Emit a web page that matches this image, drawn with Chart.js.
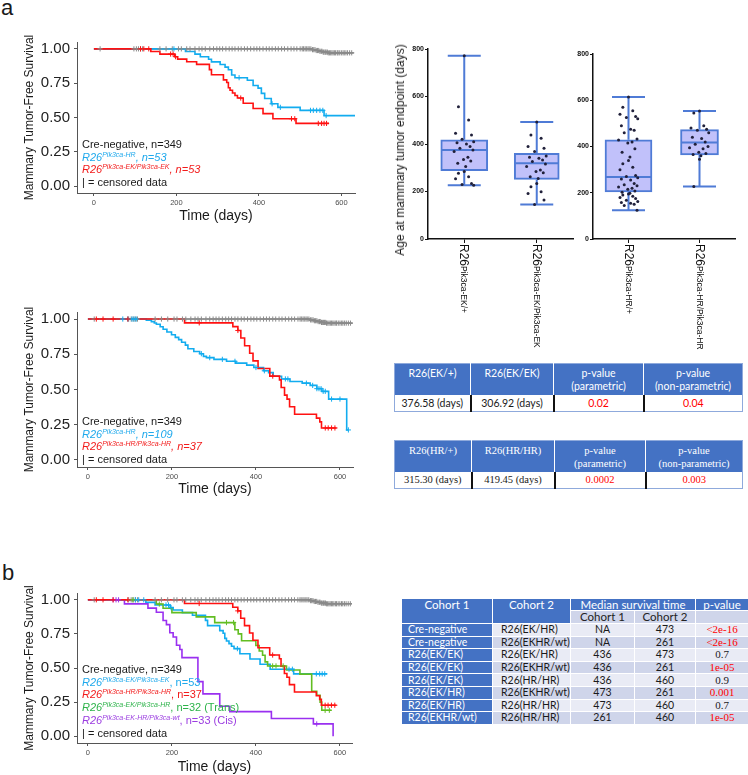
<!DOCTYPE html>
<html>
<head>
<meta charset="utf-8">
<script src="https://cdn.jsdelivr.net/npm/chart.js@4.4.0/dist/chart.umd.min.js"></script>
<style>
body { margin: 0; width: 748px; height: 775px; position: relative; overflow: hidden; background: #fff;
  font-family: "Liberation Sans", Arial, sans-serif; color: #1a1a1a; }
canvas { position: absolute; }
.panel { position: absolute; font-size: 22px; line-height: 22px; }
.leg { position: absolute; font-size: 11px; line-height: 12.5px; white-space: nowrap; }
.leg sup { font-size: 7px; line-height: 0; vertical-align: 4px; }
.cb { color: #1fa9ec; } .cr { color: #f21b1b; } .cg { color: #2db34a; } .cp { color: #9b3de0; }
.ytitle { position: absolute; font-size: 12px; white-space: nowrap; transform: translate(-50%, -50%) rotate(-90deg); }
.xl { position: absolute; transform-origin: 0 0; transform: rotate(90deg); white-space: nowrap; font-size: 12px; line-height: 14px; color: #111; }
.xl sup { font-size: 8.5px; line-height: 0; vertical-align: 1px; }
table { position: absolute; border-collapse: collapse; table-layout: fixed; }
table td, table th { padding: 0; white-space: nowrap; overflow: hidden; }
.t1 { font-family: Lato, "Liberation Sans", sans-serif; font-size: 10.5px; border: 1px solid #8faadc; }
.t2 { font-family: "Liberation Serif", serif; font-size: 10.5px; border: 1px solid #8faadc; }
.t1 th, .t2 th { background: #4472c4; color: #fff; font-weight: normal; vertical-align: top; height: 31px;
  line-height: 13px; padding-top: 3px; box-sizing: border-box; border-left: 1px solid #fff; }
.t1 td, .t2 td { height: 16px; text-align: center; border-left: 2px solid #111; background: #fff; }
.t1 th:first-child, .t2 th:first-child, .t1 td:first-child, .t2 td:first-child { border-left: none; }
.red { color: #f00; }
.t3 { font-family: Lato, "Liberation Sans", sans-serif; font-size: 10.5px; }
.t3 th, .t3 td { border: 1px solid #fff; line-height: 11px; }
.t3 th { background: #4472c4; color: #fff; font-weight: normal; text-align: center; vertical-align: top; font-size: 11.5px; }
.t3 th.sub { background: #cfd5ea; color: #222; }
.t3 td.c1 { background: #4472c4; color: #fff; text-align: left; padding-left: 6px; }
.t3 td.c2 { text-align: left; padding-left: 8px; }
.t3 td.m { text-align: center; }
.t3 td.p { text-align: center; font-family: "Liberation Serif", serif; font-size: 11px; }
.t3 tr.a td { background: #e9ebf5; } .t3 tr.b td { background: #cfd5ea; }
.t3 tr.a td.c1, .t3 tr.b td.c1 { background: #4472c4; }
</style>
</head>
<body>

<div class="panel" style="left:1px;top:-3px">a</div>
<div class="panel" style="left:2px;top:562px">b</div>

<canvas id="km1" width="346" height="200" style="left:14px;top:29px"></canvas>
<canvas id="km2" width="344" height="203" style="left:14px;top:299px"></canvas>
<canvas id="km3" width="343" height="200" style="left:14px;top:580px"></canvas>

<canvas id="box1" width="176" height="214" style="left:404px;top:39px"></canvas>
<canvas id="box2" width="170" height="209" style="left:572px;top:44px"></canvas>
<div class="ytitle" style="left:400px;top:150px">Age at mammary tumor endpoint (days)</div>

<div class="leg" style="left:82px;top:138px">
  <div>Cre-negative, n=349</div>
  <div class="cb"><i>R26<sup>Pik3ca-HR</sup>, n=53</i></div>
  <div class="cr"><i>R26<sup>Pik3ca-EK/Pik3ca-EK</sup>, n=53</i></div>
  <div>| = censored data</div>
</div>
<div class="leg" style="left:82px;top:415px">
  <div>Cre-negative, n=349</div>
  <div class="cb"><i>R26<sup>Pik3ca-HR</sup>, n=109</i></div>
  <div class="cr"><i>R26<sup>Pik3ca-HR/Pik3ca-HR</sup>, n=37</i></div>
  <div>| = censored data</div>
</div>
<div class="leg" style="left:82px;top:663px;line-height:12.7px">
  <div>Cre-negative, n=349</div>
  <div class="cb"><i>R26<sup>Pik3ca-EK/Pik3ca-EK</sup></i>, n=53</div>
  <div class="cr"><i>R26<sup>Pik3ca-HR/Pik3ca-HR</sup></i>, n=37</div>
  <div class="cg"><i>R26<sup>Pik3ca-EK/Pik3ca-HR</sup></i>, n=32 (Trans)</div>
  <div class="cp"><i>R26<sup>Pik3ca-EK-HR/Pik3ca-wt</sup></i>, n=33 (Cis)</div>
  <div>| = censored data</div>
</div>

<table class="t1" id="tab1" style="left:394px;top:363px;width:348px"></table>
<table class="t2" id="tab2" style="left:394px;top:440px;width:348px"></table>
<table class="t3" id="tab3" style="left:401px;top:598px;width:347px"></table>

<script>
// ---- Kaplan-Meier data: event times (days) and survival after each event ----
var creTimes = [528, 538, 546, 556, 568];
var creSurv = [0.994, 0.988, 0.982, 0.976, 0.971];
var creCens = [15, 97, 103, 108, 113, 118, 160, 175, 190, 205, 212, 225, 233, 245, 255, 262, 270, 281, 290, 298,
  305, 312, 320, 328, 335, 342, 350, 357, 365, 372, 380, 388, 395, 402, 410, 418, 425, 432, 440, 447, 455, 462,
  470, 478, 485, 492, 500, 505, 508, 512, 515, 519, 522, 526, 530, 533, 536, 539, 542, 545, 548, 551, 553, 556,
  558, 561, 563, 566, 568, 571, 574, 577, 580, 583, 586, 590, 592, 596, 600, 604, 607, 611, 615, 620, 625];
var creEnd = 630;

var ekekTimes = [138, 160, 196, 203, 225, 249, 280, 285, 314, 322, 326, 330, 336, 342, 348, 362, 386, 410, 434, 490];
var ekekSurv = [0.981, 0.962, 0.943, 0.925, 0.906, 0.887, 0.849, 0.811, 0.774, 0.755, 0.717, 0.698, 0.679, 0.66, 0.642, 0.604, 0.566, 0.528, 0.491, 0.457];
var ekekCens = [113, 121, 133, 186, 192, 198, 356, 479, 487, 544, 552, 558, 564];
var ekekEnd = 570;

var hr53Times = [222, 245, 258, 278, 285, 306, 318, 326, 334, 342, 372, 386, 398, 406, 414, 430, 446, 500, 558];
var hr53Surv = [0.981, 0.962, 0.943, 0.924, 0.905, 0.886, 0.867, 0.848, 0.81, 0.79, 0.771, 0.733, 0.714, 0.676, 0.638, 0.6, 0.574, 0.552, 0.514];
var hr53Cens = [194, 352, 432, 452, 525, 532, 540, 548, 555, 563];
var hr53End = 637;

var hr109Times = [139, 151, 158, 163, 172, 179, 188, 199, 208, 216, 223, 232, 238, 252, 266, 275, 282, 300, 330, 352,
  378, 395, 418, 430, 441, 461, 481, 510, 529, 545, 557, 573, 616];
var hr109Surv = [0.991, 0.982, 0.972, 0.963, 0.945, 0.928, 0.908, 0.889, 0.87, 0.854, 0.835, 0.815, 0.789, 0.77, 0.754,
  0.735, 0.726, 0.714, 0.7, 0.687, 0.673, 0.656, 0.633, 0.62, 0.594, 0.575, 0.557, 0.545, 0.529, 0.506, 0.487, 0.432, 0.213];
var hr109Cens = [83, 95, 105, 110, 115, 270, 290, 320, 350, 400, 420, 470, 476, 520, 535, 545, 550, 555, 560, 565, 580, 600, 620];
var hr109End = 620;

var hrhrTimes = [230, 345, 357, 364, 373, 385, 393, 405, 433, 456, 460, 468, 474, 480, 492, 544, 552, 556];
var hrhrSurv = [0.973, 0.946, 0.919, 0.865, 0.811, 0.757, 0.703, 0.649, 0.595, 0.568, 0.514, 0.46, 0.432, 0.378, 0.324, 0.297, 0.27, 0.227];
var hrhrCens = [20, 36, 60, 95, 265, 357, 440, 565, 572, 580, 588];
var hrhrEnd = 592;

var ekhrTimes = [163, 179, 200, 258, 302, 350, 358, 366, 400, 408, 416, 422, 428, 473, 505, 533, 545, 553, 557];
var ekhrSurv = [0.969, 0.938, 0.906, 0.875, 0.833, 0.781, 0.75, 0.7, 0.665, 0.625, 0.594, 0.545, 0.515, 0.485, 0.455, 0.33, 0.3, 0.25, 0.19];
var ekhrCens = [107, 170, 330, 347, 440, 448, 465, 565, 575];
var ekhrEnd = 580;

var cisTimes = [87, 143, 163, 179, 187, 195, 203, 211, 219, 224, 262, 274, 314, 338, 437, 537, 584];
var cisSurv = [0.97, 0.939, 0.909, 0.848, 0.818, 0.758, 0.727, 0.667, 0.636, 0.576, 0.4, 0.31, 0.22, 0.18, 0.13, 0.09, 0.0];
var cisCens = [60, 67, 73, 545];
var cisEnd = 584;

var kmDayTicks = [0, 200, 400, 600];
var kmSurvTicks = [0, 0.25, 0.5, 0.75, 1];

// ---- box plot data: [min, q1, median, q3, max] and individual points ----
var boxCats = ['Pik3ca-EK/+', 'Pik3ca-EK/Pik3ca-EK', 'Pik3ca-HR/+', 'Pik3ca-HR/Pik3ca-HR'];
var boxStats = [[226, 288, 375, 418, 772], [145, 251, 319, 361, 493], [124, 204, 268, 429, 614], [227, 364, 417, 473, 554]];
var box1Vals = [772, 557, 501, 445, 438, 420, 410, 405, 400, 389, 382, 375, 368, 344, 335, 328, 319, 305, 284, 277, 262, 254, 234, 229, 226];
var box2Vals = [493, 438, 424, 389, 382, 368, 349, 344, 340, 333, 326, 316, 305, 291, 284, 279, 262, 255, 234, 220, 199, 192, 164, 145];
var box3Vals = [614, 570, 555, 540, 530, 525, 520, 490, 475, 470, 460, 432, 428, 420, 415, 390, 375, 355, 340, 325, 310, 300,
  275, 270, 265, 260, 255, 240, 235, 230, 225, 220, 215, 208, 202, 198, 195, 190, 185, 180, 175, 168, 162, 158, 155, 150, 145, 124];
var box4Vals = [554, 545, 490, 480, 475, 470, 460, 440, 435, 420, 410, 400, 395, 390, 375, 370, 365, 360, 345, 227];
var boxTicks = [0, 200, 400, 600, 800];

// ---- tables ----
var t1Head = ['R26(EK/+)', 'R26(EK/EK)', 'p-value\n(parametric)', 'p-value\n(non-parametric)'];
var t1Row = ['376.58 (days)', '306.92 (days)', '0.02', '0.04'];
var t2Head = ['R26(HR/+)', 'R26(HR/HR)', 'p-value\n(parametric)', 'p-value\n(non-parametric)'];
var t2Row = ['315.30 (days)', '419.45 (days)', '0.0002', '0.003'];
var coh1 = ['Cre-negative', 'Cre-negative', 'R26(EK/EK)', 'R26(EK/EK)', 'R26(EK/EK)', 'R26(EK/HR)', 'R26(EK/HR)', 'R26(EKHR/wt)'];
var coh2 = ['R26(EK/HR)', 'R26(EKHR/wt)', 'R26(EK/HR)', 'R26(EKHR/wt)', 'R26(HR/HR)', 'R26(EKHR/wt)', 'R26(HR/HR)', 'R26(HR/HR)'];
var med1 = ['NA', 'NA', '436', '436', '436', '473', '473', '261'];
var med2 = ['473', '261', '473', '261', '460', '261', '460', '460'];
var pVal = ['<2e-16', '<2e-16', '0.7', '1e-05', '0.9', '0.001', '0.7', '1e-05'];
var pSig = [true, true, false, true, false, true, false, true];

var BLUE = '#12acef', RED = '#ff1111', GREEN = '#62bd22', PURPLE = '#9a30f0', GRAY = '#8a8a8a';

Chart.defaults.font.family = '"Liberation Sans", Arial, sans-serif';
Chart.defaults.animation = false;
Chart.defaults.plugins.legend.display = false;
Chart.defaults.plugins.tooltip.enabled = false;

function stepPoints(times, surv, end) {
  var pts = [{ x: 0, y: 1 }];
  for (var i = 0; i < times.length; i++) pts.push({ x: times[i], y: surv[i] });
  pts.push({ x: end, y: surv[surv.length - 1] });
  return pts;
}
function survAt(times, surv, t) {
  var s = 1;
  for (var i = 0; i < times.length; i++) if (times[i] <= t) s = surv[i];
  return s;
}
function censPoints(times, surv, cens) {
  return cens.map(function (t) { return { x: t, y: survAt(times, surv, t) }; });
}

// curves listed top-most first
function kmChart(id, curves, xMin, xMax, yW, xH) {
  var datasets = [];
  curves.forEach(function (c, i) {
    datasets.push({ type: 'line', data: stepPoints(c.t, c.s, c.end), stepped: true, borderColor: c.color,
      borderWidth: 1.6, pointRadius: 0, fill: false, order: 20 + i });
    datasets.push({ type: 'scatter', data: censPoints(c.t, c.s, c.cens), pointStyle: 'cross', pointRadius: 2.6,
      borderColor: c.color, borderWidth: 1, order: 10 + i });
  });
  return new Chart(document.getElementById(id), {
    type: 'line',
    data: { datasets: datasets },
    options: {
      responsive: false,
      layout: { padding: { top: 10, right: 5, left: 0, bottom: 0 } },
      scales: {
        x: {
          type: 'linear', min: xMin, max: xMax,
          afterBuildTicks: function (s) { s.ticks = kmDayTicks.map(function (v) { return { value: v }; }); },
          afterFit: function (s) { s.height = xH; },
          ticks: { font: { size: 7.5 }, color: '#4d4d4d', padding: 2, maxRotation: 0 },
          grid: { drawOnChartArea: false, tickLength: 3, color: '#555' },
          border: { color: '#555', width: 1 },
          title: { display: true, text: 'Time (days)', font: { size: 14 }, color: '#1a1a1a', padding: { top: 0, bottom: 4 } }
        },
        y: {
          min: -0.05, max: 1.05,
          afterBuildTicks: function (s) { s.ticks = kmSurvTicks.map(function (v) { return { value: v }; }); },
          afterFit: function (s) { s.width = yW; },
          ticks: { font: { size: 15 }, color: '#222', padding: 4, callback: function (v) { return v.toFixed(2); } },
          grid: { drawOnChartArea: false, tickLength: 3, color: '#555' },
          border: { color: '#555', width: 1 },
          title: { display: true, text: 'Mammary Tumor-Free Survival', font: { size: 12 }, color: '#1a1a1a', padding: { top: 8, bottom: 4 } }
        }
      }
    }
  });
}

var cre = { t: creTimes, s: creSurv, cens: creCens, end: creEnd, color: GRAY };
kmChart('km1', [
  { t: ekekTimes, s: ekekSurv, cens: ekekCens, end: ekekEnd, color: RED },
  { t: hr53Times, s: hr53Surv, cens: hr53Cens, end: hr53End, color: BLUE },
  cre], -41, 633, 63, 36);
kmChart('km2', [
  { t: hrhrTimes, s: hrhrSurv, cens: hrhrCens, end: hrhrEnd, color: RED },
  { t: hr109Times, s: hr109Surv, cens: hr109Cens, end: hr109End, color: BLUE },
  cre], -26, 631, 63, 35);
kmChart('km3', [
  { t: hrhrTimes, s: hrhrSurv, cens: hrhrCens, end: hrhrEnd, color: RED },
  { t: cisTimes, s: cisSurv, cens: cisCens, end: cisEnd, color: PURPLE },
  { t: ekhrTimes, s: ekhrSurv, cens: ekhrCens, end: ekhrEnd, color: GREEN },
  { t: ekekTimes, s: ekekSurv, cens: ekekCens, end: ekekEnd, color: BLUE },
  cre], -26, 629, 63, 37);

// ---- box plots ----
var jitter = [0, -0.08, 0.06, -0.12, 0.1, -0.03, 0.13, -0.1, 0.03, 0.08, -0.06, 0.12, -0.14, 0.05, -0.01, 0.09, -0.09, 0.02];

var whiskers = {
  id: 'whiskers',
  afterDatasetDraw: function (chart, args) {
    var ds = chart.data.datasets[args.index];
    if (!ds.stats) return;
    var xs = chart.scales.x, ys = chart.scales.y, ctx = chart.ctx;
    var cx = xs.getPixelForValue(ds.data[0].x);
    var half = ds.barThickness / 2, cap = ds.capWidth / 2;
    var st = ds.stats.map(function (v) { return ys.getPixelForValue(v); });
    ctx.save();
    ctx.strokeStyle = ds.borderColor;
    ctx.lineWidth = 2;
    ctx.beginPath();
    ctx.moveTo(cx, st[0]); ctx.lineTo(cx, st[1]);
    ctx.moveTo(cx, st[3]); ctx.lineTo(cx, st[4]);
    ctx.moveTo(cx - cap, st[0]); ctx.lineTo(cx + cap, st[0]);
    ctx.moveTo(cx - cap, st[4]); ctx.lineTo(cx + cap, st[4]);
    ctx.moveTo(cx - half + 1, st[2]); ctx.lineTo(cx + half - 1, st[2]);
    ctx.stroke();
    ctx.restore();
  }
};

function boxChart(id, catIdx, vals, widths, yW, left, top) {
  var datasets = [];
  catIdx.forEach(function (ci, k) {
    var st = boxStats[ci];
    datasets.push({ type: 'bar', data: [{ x: k + 1, y: [st[1], st[3]] }], stats: st, barThickness: widths[k], capWidth: 33,
      grouped: false, backgroundColor: '#c1c1fa', borderColor: '#4f7bd6', borderWidth: 2, borderSkipped: false, order: 2 });
    datasets.push({ type: 'scatter', data: vals[k].map(function (v, j) { return { x: k + 1 + jitter[j % jitter.length], y: v }; }),
      pointRadius: 1.5, backgroundColor: '#20203a', borderWidth: 0, order: 1 });
  });
  var ch = new Chart(document.getElementById(id), {
    type: 'bar',
    data: { datasets: datasets },
    plugins: [whiskers],
    options: {
      responsive: false,
      layout: { padding: { top: 10, right: 7, left: 0, bottom: 0 } },
      scales: {
        x: {
          type: 'linear', min: 0.5, max: 2.5, offset: false,
          afterBuildTicks: function (s) { s.ticks = [{ value: 1 }, { value: 2 }]; },
          afterFit: function (s) { s.height = 14; },
          ticks: { display: false },
          grid: { drawOnChartArea: false, tickLength: 4, color: '#111', offset: false },
          border: { color: '#111', width: 1.5 }
        },
        y: {
          min: 0, max: 800,
          afterBuildTicks: function (s) { s.ticks = boxTicks.map(function (v) { return { value: v }; }); },
          afterFit: function (s) { s.width = yW; },
          ticks: { font: { size: 7, weight: 'bold' }, color: '#111', padding: 1 },
          grid: { drawOnChartArea: false, tickLength: 3, color: '#111' },
          border: { color: '#111', width: 1.5 }
        }
      }
    }
  });
  // rotated category labels placed from the chart's own x scale
  catIdx.forEach(function (ci, k) {
    var d = document.createElement('div');
    d.className = 'xl';
    d.innerHTML = 'R26<sup></sup>';
    d.querySelector('sup').textContent = boxCats[ci];
    d.style.left = (left + ch.scales.x.getPixelForValue(k + 1) + 7) + 'px';
    d.style.top = (top + ch.chartArea.bottom + 5) + 'px';
    document.body.appendChild(d);
  });
}
boxChart('box1', [0, 1], [box1Vals, box2Vals], [47, 45], 24, 404, 39);
boxChart('box2', [2, 3], [box3Vals, box4Vals], [47, 38], 21, 572, 44);

// ---- tables ----
function smallTable(id, head, row, widths) {
  var tab = document.getElementById(id);
  var cg = document.createElement('colgroup');
  widths.forEach(function (w) { var c = document.createElement('col'); c.style.width = w + 'px'; cg.appendChild(c); });
  tab.appendChild(cg);
  var tr = document.createElement('tr');
  head.forEach(function (h) {
    var th = document.createElement('th');
    h.split('\n').forEach(function (line, i) {
      if (i) th.appendChild(document.createElement('br'));
      th.appendChild(document.createTextNode(line));
    });
    tr.appendChild(th);
  });
  tab.appendChild(tr);
  tr = document.createElement('tr');
  row.forEach(function (v, i) {
    var td = document.createElement('td');
    td.textContent = v;
    if (i >= 2) td.className = 'red';
    tr.appendChild(td);
  });
  tab.appendChild(tr);
}
smallTable('tab1', t1Head, t1Row, [76, 83, 90, 99]);
smallTable('tab2', t2Head, t2Row, [77, 83, 91, 97]);

(function () {
  var tab = document.getElementById('tab3');
  var cg = document.createElement('colgroup');
  [91, 78, 64, 61, 53].forEach(function (w) { var c = document.createElement('col'); c.style.width = w + 'px'; cg.appendChild(c); });
  tab.appendChild(cg);
  function cell(tr, tag, text, cls, attrs) {
    var c = document.createElement(tag);
    c.textContent = text;
    if (cls) c.className = cls;
    for (var k in (attrs || {})) c.setAttribute(k, attrs[k]);
    tr.appendChild(c);
    return c;
  }
  var h1 = document.createElement('tr'); h1.style.height = '12px';
  cell(h1, 'th', 'Cohort 1', '', { rowspan: 2 });
  cell(h1, 'th', 'Cohort 2', '', { rowspan: 2 });
  cell(h1, 'th', 'Median survival time', '', { colspan: 2 });
  cell(h1, 'th', 'p-value');
  tab.appendChild(h1);
  var h2 = document.createElement('tr'); h2.style.height = '13px';
  cell(h2, 'th', 'Cohort 1', 'sub');
  cell(h2, 'th', 'Cohort 2', 'sub');
  cell(h2, 'th', '', 'sub');
  tab.appendChild(h2);
  coh1.forEach(function (c, i) {
    var tr = document.createElement('tr');
    tr.className = i % 2 ? 'b' : 'a';
    tr.style.height = '12.6px';
    cell(tr, 'td', c, 'c1');
    cell(tr, 'td', coh2[i], 'c2');
    cell(tr, 'td', med1[i], 'm');
    cell(tr, 'td', med2[i], 'm');
    cell(tr, 'td', pVal[i], 'p' + (pSig[i] ? ' red' : ''));
    tab.appendChild(tr);
  });
})();
</script>
</body>
</html>
